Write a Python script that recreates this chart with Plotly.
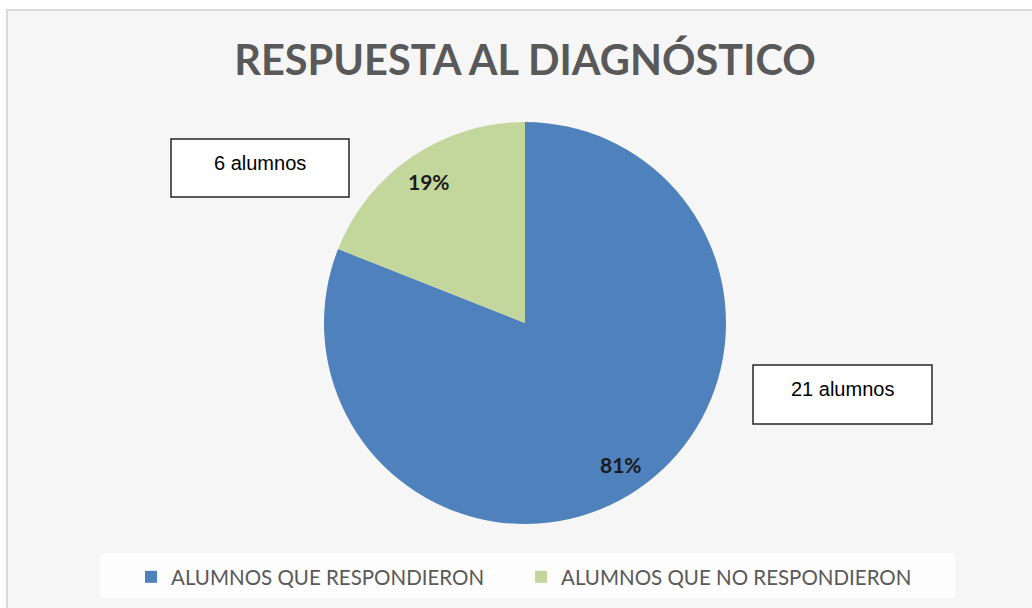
import numpy as np
import plotly.graph_objects as go

# data
labels = ['ALUMNOS QUE RESPONDIERON', 'ALUMNOS QUE NO RESPONDIERON']
percent = [81, 19]
alumnos = [21, 6]
colors = ['#4F81BD', '#C3D69B']

W, H = 1032, 608
# pie geometry in pixels
cx, cy, r = 525, 323, 201

def px(x):
    return x / W

def py(y):
    return 1 - y / H

fig = go.Figure()

fig.add_trace(go.Pie(
    labels = labels,
    values = percent,
    marker = dict(colors = colors, line = dict(width = 0)),
    sort = False,
    direction = 'clockwise',
    rotation = 0,
    textinfo = 'none',
    hoverinfo = 'label+percent',
    domain = dict(x = [px(cx - r), px(cx + r)], y = [py(cy + r), py(cy - r)]),
))

annotations = []
shapes = [
    # chart area with light border
    dict(type = 'rect', xref = 'paper', yref = 'paper', layer = 'below',
         x0 = px(7), x1 = px(1045), y0 = py(620), y1 = py(10),
         fillcolor = '#f6f6f6', line = dict(color = '#d9d9d9', width = 2)),
    # legend strip
    dict(type = 'rect', xref = 'paper', yref = 'paper', layer = 'below',
         x0 = px(100), x1 = px(955), y0 = py(598), y1 = py(553),
         fillcolor = '#fdfdfd', line = dict(width = 0)),
]

# percent labels along each slice bisector
total = sum(percent)
cum = 0
for v in percent:
    theta = np.radians((cum + v / 2) / total * 360)
    cum += v
    lx = cx + 0.85 * r * np.sin(theta)
    ly = cy - 0.85 * r * np.cos(theta)
    annotations.append(dict(
        x = px(lx), y = py(ly), xref = 'paper', yref = 'paper',
        xanchor = 'center', yanchor = 'middle',
        text = '<b>%d%%</b>' % v, showarrow = False,
        font = dict(family = 'Lato', size = 21, color = '#1a1a1a'),
    ))

# count boxes: (left, top, right, bottom, text y)
boxes = [(753, 365, 932, 424, 389), (171, 139, 349, 197, 163)]
for n, (x0, y0, x1, y1, ty) in zip(alumnos, boxes):
    shapes.append(dict(
        type = 'rect', xref = 'paper', yref = 'paper',
        x0 = px(x0), x1 = px(x1), y0 = py(y1), y1 = py(y0),
        fillcolor = 'white', line = dict(color = '#262626', width = 1.5),
    ))
    annotations.append(dict(
        x = px((x0 + x1) / 2), y = py(ty), xref = 'paper', yref = 'paper',
        xanchor = 'center', yanchor = 'middle',
        text = '%d alumnos' % n, showarrow = False,
        font = dict(family = 'Liberation Sans', size = 20, color = 'black'),
    ))

fig.update_layout(
    width = W,
    height = H,
    margin = dict(l = 0, r = 0, t = 0, b = 0),
    paper_bgcolor = 'white',
    plot_bgcolor = 'white',
    title = dict(
        text = '<b>RESPUESTA AL DIAGNÓSTICO</b>',
        x = px(525), xanchor = 'center',
        y = py(60), yanchor = 'middle',
        font = dict(family = 'Lato', size = 41.5, color = '#595959'),
    ),
    legend = dict(
        orientation = 'h',
        x = px(131), xanchor = 'left',
        y = py(577), yanchor = 'middle',
        bgcolor = 'rgba(0,0,0,0)',
        font = dict(family = 'Lato', size = 20.5, color = '#595959'),
        entrywidth = 345, entrywidthmode = 'pixels',
    ),
    annotations = annotations,
    shapes = shapes,
)

fig.write_html("out.html", config = dict(displayModeBar = False),
               post_script = "document.body.style.margin = '0';")
